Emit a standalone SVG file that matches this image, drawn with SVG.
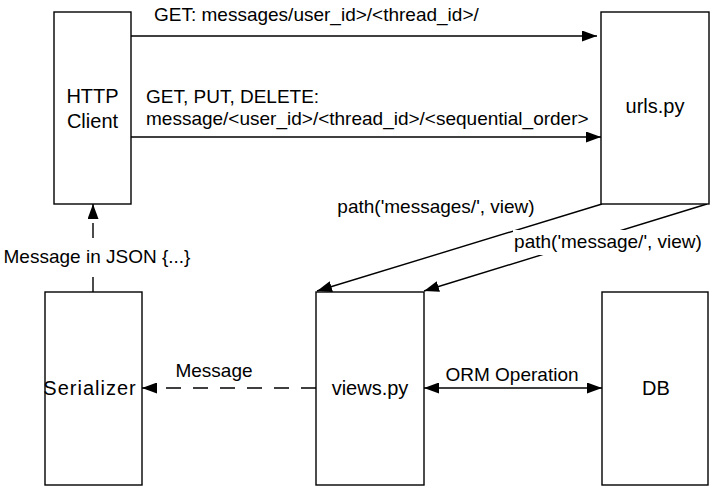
<svg xmlns="http://www.w3.org/2000/svg" width="719" height="496" viewBox="0 0 719 496">
<style>
.box{fill:#fff;stroke:#000;stroke-width:1.4}
.t{font-family:"Liberation Sans",Arial,sans-serif;font-size:19px;fill:#000}
.n{font-size:20px}
.m{text-anchor:middle}
.ln{stroke:#000;stroke-width:1.4;fill:none}
.d{stroke-dasharray:15 12}
.bg{fill:#fff}
</style>
<defs>
<marker id="ah" viewBox="0 0 15 11" refX="15" refY="5.5" markerWidth="15" markerHeight="11" markerUnits="userSpaceOnUse" orient="auto-start-reverse"><path d="M0,0 L15,5.5 L0,11 z" fill="#000"/></marker>
</defs>
<rect width="719" height="496" fill="#fff"/>
<g id="connectors">
<line class="ln" x1="131" y1="36" x2="597" y2="36" marker-end="url(#ah)"/>
<line class="ln" x1="131" y1="137" x2="601" y2="137" marker-end="url(#ah)"/>
<line class="ln" x1="602" y1="204" x2="317" y2="291" marker-end="url(#ah)"/>
<line class="ln" x1="707" y1="204" x2="424" y2="291" marker-end="url(#ah)"/>
<line class="ln d" x1="93" y1="292" x2="93" y2="204" marker-end="url(#ah)"/>
<line class="ln d" x1="316" y1="388" x2="142" y2="388" marker-end="url(#ah)"/>
<line class="ln" x1="424" y1="388" x2="602" y2="388" marker-start="url(#ah)" marker-end="url(#ah)"/>
<text class="t" x="154" y="21">GET: messages/user_id&gt;/&lt;thread_id&gt;/</text>
<text class="t" x="146" y="103">GET, PUT, DELETE:</text>
<text class="t" x="146" y="125">message/&lt;user_id&gt;/&lt;thread_id&gt;/&lt;sequential_order&gt;</text>
<text class="t m" x="436" y="213">path('messages/', view)</text>
<rect class="bg" x="513" y="230" width="190" height="25"/>
<text class="t m" x="608" y="248">path('message/', view)</text>
<rect class="bg" x="4" y="239" width="186" height="35"/>
<text class="t m" x="97" y="263">Message in JSON {...}</text>
<text class="t m" x="214" y="377">Message</text>
<text class="t m" x="512" y="381">ORM Operation</text>
</g>
<g id="http-client">
<rect class="box" x="54" y="12" width="77" height="192"/>
<text class="t n m" x="92.5" y="103">HTTP</text>
<text class="t n m" x="92.5" y="128">Client</text>
</g>
<g id="urls">
<rect class="box" x="601" y="12" width="108" height="192"/>
<text class="t n m" x="655" y="113">urls.py</text>
</g>
<g id="serializer">
<rect class="box" x="45" y="292" width="97" height="193"/>
<text class="t n m" x="90" y="395" letter-spacing="1">Serializer</text>
</g>
<g id="views">
<rect class="box" x="316" y="292" width="108" height="193"/>
<text class="t n m" x="370" y="395">views.py</text>
</g>
<g id="db">
<rect class="box" x="602" y="292" width="106" height="193"/>
<text class="t n m" x="656" y="395">DB</text>
</g>
</svg>
